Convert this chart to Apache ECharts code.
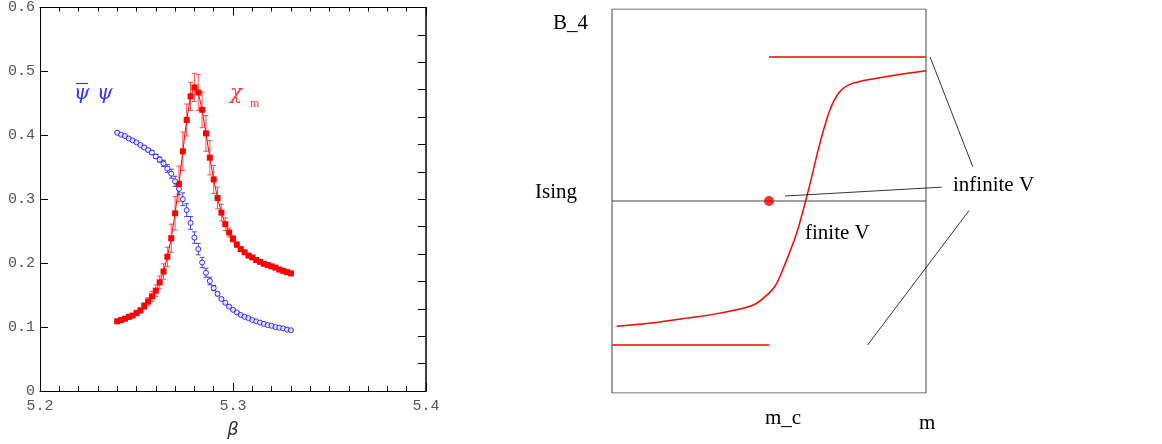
<!DOCTYPE html>
<html>
<head>
<meta charset="utf-8">
<script src="https://cdn.jsdelivr.net/npm/echarts@6/dist/echarts.min.js"></script>
<style>html,body{margin:0;padding:0;background:#fff}#c{width:1162px;height:444px}</style>
</head>
<body>
<div id="c"></div>
<script>
// ---- left panel data ----
const beta = [5.240,5.242,5.244,5.246,5.248,5.250,5.252,5.254,5.256,5.258,
  5.260,5.262,5.264,5.266,5.268,5.270,5.272,5.274,5.276,5.278,
  5.280,5.282,5.284,5.286,5.288,5.290,5.292,5.294,5.296,5.298,
  5.300,5.302,5.304,5.306,5.308,5.310,5.312,5.314,5.316,5.318,
  5.320,5.322,5.324,5.326,5.328,5.330];
const chiM = [0.109,0.111,0.113,0.116,0.118,0.122,0.126,0.133,0.140,0.148,
  0.157,0.170,0.187,0.210,0.239,0.278,0.324,0.375,0.424,0.461,
  0.475,0.467,0.440,0.403,0.365,0.331,0.302,0.279,0.261,0.248,
  0.238,0.229,0.222,0.217,0.212,0.209,0.205,0.202,0.199,0.197,
  0.195,0.193,0.190,0.188,0.186,0.184];
const chiErr = [0.002,0.002,0.002,0.003,0.003,0.004,0.004,0.005,0.006,0.008,
  0.009,0.010,0.012,0.015,0.022,0.026,0.028,0.030,0.025,0.022,
  0.022,0.028,0.028,0.028,0.027,0.022,0.017,0.013,0.010,0.007,
  0.005,0.004,0.003,0.003,0.002,0.002,0.002,0.002,0.002,0.002,
  0.002,0.002,0.002,0.002,0.002,0.002];
const psiBarPsi = [0.404,0.401,0.399,0.395,0.392,0.389,0.385,0.381,0.377,0.373,
  0.367,0.362,0.356,0.348,0.340,0.328,0.316,0.300,0.283,0.263,
  0.240,0.222,0.201,0.185,0.172,0.161,0.152,0.144,0.138,0.132,
  0.127,0.123,0.119,0.116,0.114,0.111,0.109,0.107,0.105,0.103,
  0.102,0.100,0.099,0.098,0.096,0.095];
const psiErr = [0.001,0.001,0.001,0.001,0.001,0.001,0.001,0.002,0.002,0.003,
  0.003,0.004,0.005,0.006,0.007,0.008,0.009,0.010,0.010,0.010,
  0.009,0.009,0.008,0.007,0.006,0.004,0.003,0.002,0.002,0.001,
  0.001,0.001,0.001,0.001,0.001,0.001,0.001,0.001,0.001,0.001,
  0.001,0.001,0.001,0.001,0.001,0.001];

// ---- right panel (schematic) data, m and B_4 in units of the box ----
const frameBox = [[0,0],[1,0],[1,1],[0,1],[0,0]];
const upperInfV = [[0.5,0.875],[1.0,0.875]];
const lowerInfV = [[0.0,0.125],[0.5,0.125]];
const isingLine = [[0.0,0.5],[1.0,0.5]];
const finiteV = [[0.015,0.174],[0.132,0.183],[0.238,0.195],[0.344,0.208],[0.45,0.229],
  [0.50,0.26],[0.525,0.286],[0.556,0.346],[0.588,0.416],[0.609,0.477],[0.631,0.546],
  [0.662,0.65],[0.694,0.737],[0.726,0.785],[0.768,0.807],[0.875,0.824],[1.0,0.839]];
const criticalPoint = [[0.5,0.5]];
const pointer1 = [[1.013,0.875],[1.149,0.589]];
const pointer2 = [[0.551,0.513],[1.05,0.536]];
const pointer3 = [[1.137,0.475],[0.814,0.125]];

const chart = echarts.init(document.getElementById('c'));

function errBar(color) {
  return function (params, api) {
    const x = api.value(0), y = api.value(1), e = api.value(2);
    const top = api.coord([x, y + e]);
    const bot = api.coord([x, y - e]);
    const w = 2.5;
    const st = {stroke: color, lineWidth: 1};
    return {type: 'group', children: [
      {type: 'line', shape: {x1: top[0], y1: top[1], x2: bot[0], y2: bot[1]}, style: st},
      {type: 'line', shape: {x1: top[0]-w, y1: top[1], x2: top[0]+w, y2: top[1]}, style: st},
      {type: 'line', shape: {x1: bot[0]-w, y1: bot[1], x2: bot[0]+w, y2: bot[1]}, style: st}
    ]};
  };
}

const monoLabel = {fontFamily: '"Liberation Mono", monospace', fontSize: 15, color: '#555'};
const axLine = {show: true, lineStyle: {color: '#000', width: 1}};
const fmt1 = v => (v === 0 ? '0' : v.toFixed(1));
const fmtMajor = v => (Math.abs(v * 10 - Math.round(v * 10)) < 1e-6 ? v.toFixed(1) : '');

const option = {
  animation: false,
  grid: [
    {left: 40, top: 7, width: 386, height: 386, show: false},
    {left: 612, top: 9, width: 376.8, height: 384, show: false}
  ],
  xAxis: [
    {gridIndex: 0, type: 'value', position: 'bottom', min: 5.2, max: 5.4, interval: 0.01,
      axisLine: axLine, axisTick: {inside: true, length: 5, lineStyle: {color: '#000'}},
      splitLine: {show: false},
      axisLabel: Object.assign({formatter: fmtMajor, margin: 8, showMinLabel: true, showMaxLabel: true}, monoLabel),
      name: 'β', nameLocation: 'middle', nameGap: 30,
      nameTextStyle: {fontFamily: '"DejaVu Sans", sans-serif', fontStyle: 'italic', fontSize: 18, color: '#333'}},
    {gridIndex: 0, type: 'value', position: 'bottom', min: 5.2, max: 5.4, interval: 0.1,
      axisLine: {show: false}, axisTick: {inside: true, length: 8, lineStyle: {color: '#000'}},
      splitLine: {show: false}, axisLabel: {show: false}},
    {gridIndex: 0, type: 'value', position: 'top', min: 5.2, max: 5.4, interval: 0.01,
      axisLine: axLine, axisTick: {inside: true, length: 4, lineStyle: {color: '#000'}},
      splitLine: {show: false}, axisLabel: {show: false}},
    {gridIndex: 0, type: 'value', position: 'top', min: 5.2, max: 5.4, interval: 0.1,
      axisLine: {show: false}, axisTick: {inside: true, length: 8, lineStyle: {color: '#000'}},
      splitLine: {show: false}, axisLabel: {show: false}},
    {gridIndex: 1, type: 'value', min: 0, max: 1.2, show: false}
  ],
  yAxis: [
    {gridIndex: 0, type: 'value', position: 'left', min: 0, max: 0.6, interval: 0.1,
      axisLine: axLine, axisTick: {inside: true, length: 8, lineStyle: {color: '#000'}},
      splitLine: {show: false},
      axisLabel: Object.assign({formatter: fmt1, margin: 5}, monoLabel)},
    {gridIndex: 0, type: 'value', position: 'right', min: 0, max: 14, interval: 1,
      axisLine: {show: true, lineStyle: {color: '#000', width: 1.5}},
      axisTick: {inside: true, length: 8, lineStyle: {color: '#000'}},
      splitLine: {show: false}, axisLabel: {show: false}},
    {gridIndex: 1, type: 'value', min: 0, max: 1, show: false}
  ],
  series: [
    {type: 'custom', xAxisIndex: 0, yAxisIndex: 0, renderItem: errBar('rgba(255,50,50,0.85)'),
      data: beta.map((b, i) => [b, chiM[i], chiErr[i]]), z: 2},
    {type: 'line', xAxisIndex: 0, yAxisIndex: 0, data: beta.map((b, i) => [b, chiM[i]]),
      symbol: 'rect', symbolSize: 6, showSymbol: true,
      lineStyle: {color: '#ff0000', width: 1}, itemStyle: {color: '#ff0000'}, z: 3},
    {type: 'custom', xAxisIndex: 0, yAxisIndex: 0, renderItem: errBar('rgba(40,40,255,0.85)'),
      data: beta.map((b, i) => [b, psiBarPsi[i], psiErr[i]]), z: 2},
    {type: 'scatter', xAxisIndex: 0, yAxisIndex: 0, data: beta.map((b, i) => [b, psiBarPsi[i]]),
      symbol: 'circle', symbolSize: 5,
      itemStyle: {color: '#ffffff', borderColor: '#0000ff', borderWidth: 1}, z: 4},

    {type: 'line', xAxisIndex: 4, yAxisIndex: 2, data: frameBox, symbol: 'none',
      lineStyle: {color: '#444', width: 1}},
    {type: 'line', xAxisIndex: 4, yAxisIndex: 2, data: isingLine, symbol: 'none',
      lineStyle: {color: '#444', width: 1.2}},
    {type: 'line', xAxisIndex: 4, yAxisIndex: 2, data: upperInfV, symbol: 'none',
      lineStyle: {color: '#ff0000', width: 1.5}},
    {type: 'line', xAxisIndex: 4, yAxisIndex: 2, data: lowerInfV, symbol: 'none',
      lineStyle: {color: '#ff0000', width: 1.5}},
    {type: 'line', xAxisIndex: 4, yAxisIndex: 2, data: finiteV, symbol: 'none', smooth: 0.3,
      lineStyle: {color: '#ff0000', width: 1.5}},
    {type: 'scatter', xAxisIndex: 4, yAxisIndex: 2, data: criticalPoint, symbol: 'circle', symbolSize: 10,
      itemStyle: {color: '#ee0000'}, z: 5},
    {type: 'line', xAxisIndex: 4, yAxisIndex: 2, data: pointer1, symbol: 'none',
      lineStyle: {color: '#000', width: 0.8}},
    {type: 'line', xAxisIndex: 4, yAxisIndex: 2, data: pointer2, symbol: 'none',
      lineStyle: {color: '#000', width: 0.8}},
    {type: 'line', xAxisIndex: 4, yAxisIndex: 2, data: pointer3, symbol: 'none',
      lineStyle: {color: '#000', width: 0.8}}
  ],
  graphic: [
    {type: 'text', left: 74, top: 84, style: {text: 'ψ', font: 'italic 20px "DejaVu Serif", serif', fill: '#3434ff'}},
    {type: 'line', shape: {x1: 76, y1: 83.5, x2: 88, y2: 83.5}, style: {stroke: '#3434ff', lineWidth: 1.2}},
    {type: 'text', left: 97, top: 84, style: {text: 'ψ', font: 'italic 20px "DejaVu Serif", serif', fill: '#3434ff'}},
    {type: 'text', left: 230, top: 84, style: {text: 'χ', font: 'italic 20px "DejaVu Serif", serif', fill: '#ff3434'}},
    {type: 'text', left: 250, top: 98, style: {text: 'm', font: '12px "Liberation Serif", serif', fill: '#ff3434'}},

    {type: 'text', left: 553, top: 13, style: {text: 'B_4', font: '21px "Liberation Serif", serif', fill: '#000'}},
    {type: 'text', left: 535, top: 182, style: {text: 'Ising', font: '21px "Liberation Serif", serif', fill: '#000'}},
    {type: 'text', left: 953, top: 175, style: {text: 'infinite V', font: '21px "Liberation Serif", serif', fill: '#000'}},
    {type: 'text', left: 805, top: 223, style: {text: 'finite V', font: '21px "Liberation Serif", serif', fill: '#000'}},
    {type: 'text', left: 765, top: 408, style: {text: 'm_c', font: '21px "Liberation Serif", serif', fill: '#000'}},
    {type: 'text', left: 919, top: 413, style: {text: 'm', font: '21px "Liberation Serif", serif', fill: '#000'}}
  ]
};
chart.setOption(option);
</script>
</body>
</html>
